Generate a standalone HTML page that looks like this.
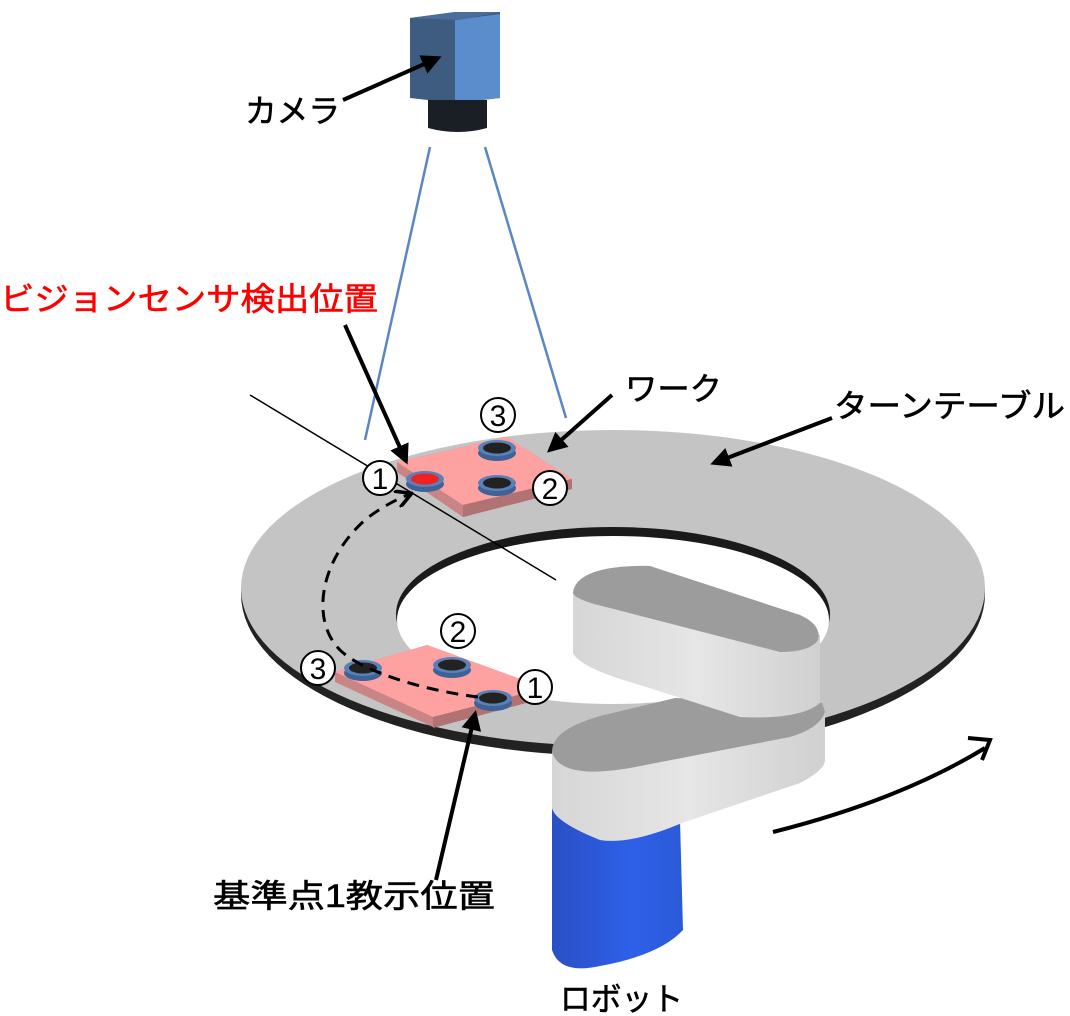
<!DOCTYPE html>
<html><head><meta charset="utf-8"><style>
body{margin:0;background:#fff}
svg{display:block}
text{font-family:"Liberation Sans","Noto Sans CJK JP",sans-serif}
</style></head><body>
<svg width="1070" height="1016" viewBox="0 0 1070 1016">
<defs>
<marker id="ah" viewBox="0 0 10 10" refX="8" refY="5" markerWidth="5" markerHeight="5" orient="auto"><path d="M0,0 L10,5 L0,10 z" fill="#000"/></marker>
<marker id="oa" viewBox="0 0 10 10" refX="8" refY="5" markerWidth="6" markerHeight="6" orient="auto"><path d="M0,0 L9,5 L0,10" fill="none" stroke="#000" stroke-width="2"/></marker>
<linearGradient id="blue" x1="0" x2="1"><stop offset="0" stop-color="#2a4fc4"/><stop offset="0.6" stop-color="#2e60e8"/><stop offset="1" stop-color="#2b5ad8"/></linearGradient>
<linearGradient id="side" x1="0" x2="1"><stop offset="0" stop-color="#d6d6d6"/><stop offset="0.5" stop-color="#e6e6e6"/><stop offset="1" stop-color="#d0d0d0"/></linearGradient>
</defs>
<polygon points="410,18 455,12 500,12 500,98 455,103 410,98" fill="#3d5c80"/>
<polygon points="455,20 500,14 500,98 455,103" fill="#5b8ccc"/>
<polygon points="410,18 455,12 500,12 458,20" fill="#4a6e99"/>
<path d="M428,100 L487,100 L487,128 Q458,136 428,128 Z" fill="#1a1f26"/>
<line x1="430" y1="147" x2="365" y2="440" stroke="#5a86c4" stroke-width="2.5"/>
<line x1="485" y1="147" x2="566" y2="418" stroke="#5a86c4" stroke-width="2.5"/>
<ellipse cx="613" cy="594" rx="372" ry="162" fill="#222"/>
<ellipse cx="613" cy="588" rx="372" ry="158" fill="#c4c4c4"/>
<ellipse cx="613" cy="614" rx="217" ry="87" fill="#1a1a1a"/>
<ellipse cx="613" cy="620" rx="216" ry="84" fill="#fff"/>
<line x1="250" y1="395" x2="556" y2="580" stroke="#000" stroke-width="1.5"/>
<polygon points="397,462 507,437 572,479 572,489 463,517 397,472" fill="#c98585"/>
<polygon points="397,462 507,437 572,479 463,505" fill="#fda1a1"/>
<polygon points="463,505 572,479 572,489 463,517" fill="#b07272"/>
<ellipse cx="425" cy="484" rx="19" ry="8" fill="#3f6296"/><ellipse cx="425" cy="479" rx="19" ry="8" fill="#5a80b8"/><ellipse cx="425" cy="479" rx="14" ry="5.5" fill="#e22"/>
<ellipse cx="497" cy="453" rx="19" ry="8" fill="#3f6296"/><ellipse cx="497" cy="448" rx="19" ry="8" fill="#5a80b8"/><ellipse cx="497" cy="448" rx="14" ry="5.5" fill="#222"/>
<ellipse cx="497" cy="488" rx="19" ry="8" fill="#3f6296"/><ellipse cx="497" cy="483" rx="19" ry="8" fill="#5a80b8"/><ellipse cx="497" cy="483" rx="14" ry="5.5" fill="#222"/>
<polygon points="335,672 427,645 545,688 545,698 433,727 335,682" fill="#c98585"/>
<polygon points="335,672 427,645 545,688 433,717" fill="#fda1a1"/>
<polygon points="433,717 545,688 545,698 433,728" fill="#b07272"/>
<ellipse cx="363" cy="673" rx="19" ry="8" fill="#3f6296"/><ellipse cx="363" cy="668" rx="19" ry="8" fill="#5a80b8"/><ellipse cx="363" cy="668" rx="14" ry="5.5" fill="#222"/>
<ellipse cx="452" cy="670" rx="19" ry="8" fill="#3f6296"/><ellipse cx="452" cy="665" rx="19" ry="8" fill="#5a80b8"/><ellipse cx="452" cy="665" rx="14" ry="5.5" fill="#222"/>
<ellipse cx="493" cy="703" rx="19" ry="8" fill="#3f6296"/><ellipse cx="493" cy="698" rx="19" ry="8" fill="#5a80b8"/><ellipse cx="493" cy="698" rx="14" ry="5.5" fill="#222"/>
<path d="M478,697 C420,690 360,670 340,650 C310,620 320,560 365,520 C380,508 395,500 410,494" fill="none" stroke="#000" stroke-width="3" stroke-dasharray="12,8" marker-end="url(#oa)"/>
<path d="M552,805 L552,950 Q560,975 600,966 Q660,955 683,930 L680,820 Z" fill="url(#blue)"/>
<path d="M552,752 L552,808 Q555,822 600,840 Q630,845 682,823 L800,783 Q825,770 825,760 L825,712 Z" fill="url(#side)"/>
<path d="M552,752 C552,735 570,725 600,716 L675,698 L822,703 L825,712 Q820,728 790,737 L630,768 Q560,780 552,752 Z" fill="#9c9c9c"/>
<path d="M573,593 L573,653 Q580,668 640,685 L740,717 Q800,720 820,703 L820,635 Z" fill="url(#side)"/>
<path d="M573,593 C575,575 600,565 650,566 L800,615 Q822,625 818,640 Q810,652 780,652 L610,608 Q575,600 573,593 Z" fill="#9c9c9c"/>
<path d="M773,832 Q900,800 985,748" fill="none" stroke="#000" stroke-width="4"/>
<path d="M968,738 L990,740 L982,760" fill="none" stroke="#000" stroke-width="4"/>
<g stroke="#000" stroke-width="4" marker-end="url(#ah)">
<line x1="343" y1="100" x2="438" y2="58"/>
<line x1="345" y1="325" x2="406" y2="461"/>
<line x1="612" y1="395" x2="550" y2="450"/>
<line x1="832" y1="418" x2="714" y2="463"/>
<line x1="436" y1="880" x2="475" y2="714"/>
</g>
<g font-size="30" text-anchor="middle">
<g><circle cx="380" cy="478" r="17" fill="#fff" stroke="#000" stroke-width="2"/><text x="380" y="489">1</text></g>
<g><circle cx="498" cy="415" r="17" fill="#fff" stroke="#000" stroke-width="2"/><text x="498" y="426">3</text></g>
<g><circle cx="550" cy="488" r="17" fill="#fff" stroke="#000" stroke-width="2"/><text x="550" y="499">2</text></g>
<g><circle cx="458" cy="631" r="17" fill="#fff" stroke="#000" stroke-width="2"/><text x="458" y="642">2</text></g>
<g><circle cx="318" cy="668" r="17" fill="#fff" stroke="#000" stroke-width="2"/><text x="318" y="679">3</text></g>
<g><circle cx="535" cy="687" r="17" fill="#fff" stroke="#000" stroke-width="2"/><text x="535" y="698">1</text></g>
</g>
<g font-size="32" stroke="currentColor" stroke-width="0.6">
<text x="245" y="122" textLength="95" lengthAdjust="spacingAndGlyphs" fill="#000" color="#000">カメラ</text>
<text x="0" y="310" fill="#f00" color="#f00" textLength="378" lengthAdjust="spacingAndGlyphs">ビジョンセンサ検出位置</text>
<text x="625" y="400" textLength="97" lengthAdjust="spacingAndGlyphs" color="#000">ワーク</text>
<text x="834" y="417" textLength="231" lengthAdjust="spacingAndGlyphs" color="#000">ターンテーブル</text>
<text x="213" y="907" textLength="282" lengthAdjust="spacingAndGlyphs" color="#000">基準点1教示位置</text>
<text x="560" y="1010" textLength="123" lengthAdjust="spacingAndGlyphs" color="#000">ロボット</text>
</g>
</svg>
</body></html>
